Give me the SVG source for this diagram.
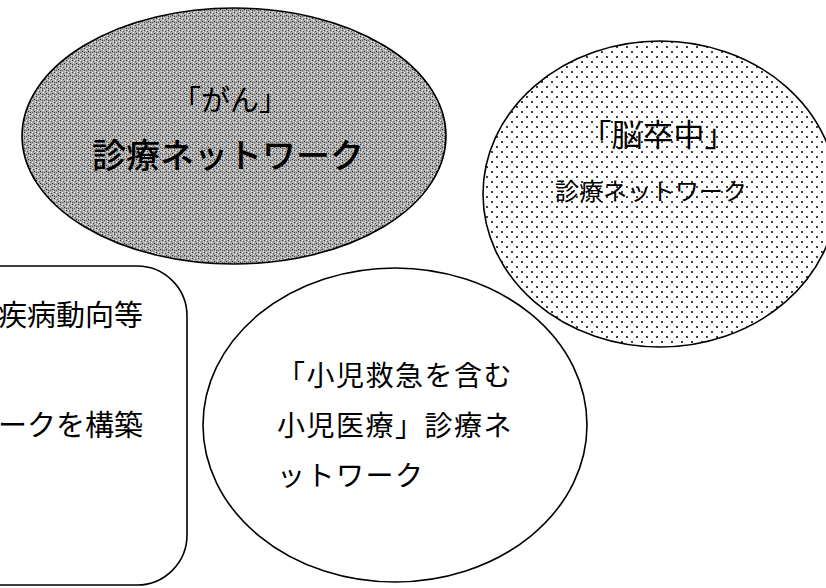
<svg xmlns="http://www.w3.org/2000/svg" width="826" height="588" viewBox="0 0 826 588">
<defs>
<pattern id="noise" width="6" height="6" patternUnits="userSpaceOnUse">
<rect width="6" height="6" fill="#ababab"/>
<rect x="0" y="0" width="1" height="1" fill="#333"/>
<rect x="3" y="1" width="1" height="1" fill="#555"/>
<rect x="1" y="2" width="1" height="1" fill="#fff"/>
<rect x="4" y="3" width="1" height="1" fill="#222"/>
<rect x="2" y="4" width="1" height="1" fill="#666"/>
<rect x="5" y="5" width="1" height="1" fill="#eee"/>
<rect x="5" y="1" width="1" height="1" fill="#ddd"/>
<rect x="0" y="4" width="1" height="1" fill="#444"/>
<rect x="2" y="0" width="1" height="1" fill="#fff"/>
</pattern>
<pattern id="dots" width="10" height="10" patternUnits="userSpaceOnUse">
<rect width="10" height="10" fill="#fff"/>
<circle cx="2" cy="2" r="1" fill="#000"/>
<circle cx="7" cy="7" r="1" fill="#000"/>
</pattern>
</defs>
<style>
.shape{stroke:#000;stroke-width:1.6}
.t{font-family:"Noto Sans CJK JP","Noto Sans CJK SC",sans-serif;fill:#000}
</style>
<rect width="826" height="588" fill="#fff"/>
<g id="connectors"></g>
<g id="gan">
<ellipse class="shape" cx="234" cy="136" rx="212" ry="128" fill="url(#noise)"/>
<text class="t" x="230" y="111" font-size="29" text-anchor="middle">「がん」</text>
<text class="t" x="228" y="168" font-size="34" text-anchor="middle" font-weight="500">診療ネットワーク</text>
</g>
<g id="stroke">
<ellipse class="shape" cx="660" cy="194" rx="177" ry="153" fill="url(#dots)"/>
<text class="t" x="658" y="146" font-size="31" text-anchor="middle">「脳卒中」</text>
<text class="t" x="651" y="200" font-size="24" text-anchor="middle">診療ネットワーク</text>
</g>
<g id="left-box">
<rect class="shape" x="-60" y="266" width="247" height="319" rx="50" ry="50" fill="#fff"/>
<text class="t" x="143" y="326" font-size="29" text-anchor="end">疾病動向等</text>
<text class="t" x="143" y="436" font-size="29" text-anchor="end">ークを構築</text>
</g>
<g id="pediatric">
<ellipse class="shape" cx="395" cy="425" rx="192" ry="157" fill="#fff"/>
<text class="t" x="277" y="386" font-size="28" letter-spacing="1.5">「小児救急を含む</text>
<text class="t" x="277" y="436" font-size="28" letter-spacing="1.5">小児医療」診療ネ</text>
<text class="t" x="277" y="486" font-size="28" letter-spacing="1.5">ットワーク</text>
</g>
</svg>
